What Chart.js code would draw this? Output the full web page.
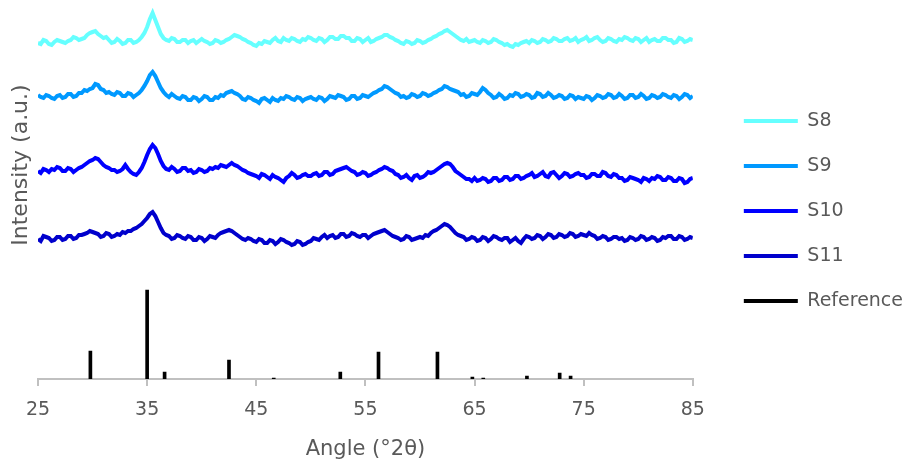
<!DOCTYPE html>
<html>
<head>
<meta charset="utf-8">
<script src="https://cdn.jsdelivr.net/npm/chart.js@4.4.1/dist/chart.umd.min.js"></script>
<style>
  html, body { margin: 0; padding: 0; background: #ffffff; }
  #wrap { width: 904px; height: 462px; }
</style>
</head>
<body>
<div id="wrap"><canvas id="xrdChart"></canvas></div>
<script>
// XRD patterns, stacked (intensity in a.u., every 0.25 deg)
const angleStart = 25;
const angleStep = 0.25;

const s8 = [
  336,335,339,338,335,334,337,339,338,337,336,338,339,342,341,339,340,341,344,346,
  347,348,345,343,341,342,339,336,337,340,338,335,336,339,339,336,337,339,342,346,
  352,360,366,359,352,345,341,339,338,341,340,337,337,339,339,336,338,339,336,338,
  340,338,337,335,336,339,338,336,337,339,340,342,344,343,342,340,339,337,336,334,
  333,336,335,338,337,336,339,341,338,337,341,339,338,341,340,338,337,340,339,342,
  341,339,338,341,340,337,339,342,342,340,340,343,343,341,341,338,338,341,340,337,
  339,341,337,338,340,341,342,344,344,342,341,339,338,336,335,338,337,335,336,339,
  338,336,337,339,340,342,343,345,346,348,349,347,345,343,341,339,338,340,337,338,
  339,337,336,339,338,336,337,340,339,337,336,334,335,333,332,335,334,336,337,338,
  336,339,338,336,337,340,339,337,338,341,340,338,338,340,341,338,339,341,337,339,
  340,342,338,339,341,342,339,337,338,341,340,338,337,340,339,342,341,339,338,341,
  340,337,339,341,337,339,340,338,338,341,341,339,339,336,337,341,340,337,338,340,
  339
];
const s9 = [
  284,282,281,284,283,281,280,283,284,281,282,285,285,282,283,286,286,289,288,290,
  291,295,294,290,289,286,287,285,284,287,286,283,283,286,285,282,284,286,289,293,
  298,304,307,303,297,291,287,284,282,285,283,281,280,283,282,279,279,282,281,278,
  280,283,282,279,279,282,281,284,283,286,287,288,286,285,283,280,279,282,281,279,
  278,276,280,281,279,277,281,279,278,281,280,283,282,280,279,282,281,278,280,281,
  282,280,279,282,281,278,280,283,282,281,284,283,282,279,280,283,283,280,281,284,
  283,282,284,286,287,289,290,293,292,290,288,286,285,282,283,281,282,285,284,282,
  283,286,285,283,284,286,287,289,290,293,292,290,289,288,287,284,285,282,283,286,
  285,284,287,291,289,286,284,281,282,285,283,280,281,284,283,286,285,282,283,285,
  284,281,282,286,285,282,283,286,284,281,282,284,283,280,281,284,283,280,282,281,
  280,283,282,279,281,284,283,281,282,285,284,281,282,285,283,280,281,284,284,281,
  282,285,283,280,281,284,283,281,282,285,284,282,281,284,283,280,282,285,284,281,
  283
];
const s10 = [
  208,206,210,209,207,210,209,212,211,208,208,211,210,207,209,211,212,214,216,218,
  219,221,220,217,214,212,211,209,209,207,208,210,214,210,207,205,204,207,211,217,
  224,230,234,231,225,218,213,210,209,212,210,207,208,211,211,208,209,206,207,210,
  209,207,208,211,210,212,211,214,213,212,214,216,214,213,211,209,208,206,205,204,
  203,201,205,204,202,200,204,202,201,199,197,201,203,206,204,201,202,204,205,203,
  203,205,206,203,204,207,207,204,205,208,209,210,211,212,210,208,207,204,205,207,
  206,203,204,206,207,209,210,212,211,209,208,205,204,201,202,204,201,199,203,204,
  201,202,204,207,206,207,209,211,213,215,216,215,212,208,206,204,202,200,200,198,
  201,198,199,201,200,197,198,201,201,198,199,202,202,199,200,203,203,200,201,203,
  204,206,202,203,205,207,203,202,206,207,204,201,203,206,205,202,203,205,206,204,
  204,201,202,205,205,203,203,207,206,203,202,205,204,201,201,198,199,202,201,200,
  199,197,201,200,198,201,200,203,202,199,199,202,201,198,198,201,200,196,197,200,
  201
];
const s11 = [
  140,138,143,142,141,138,139,142,142,139,140,143,143,140,141,144,144,145,146,148,
  147,146,145,142,143,146,145,142,143,145,144,147,146,148,148,150,151,153,155,158,
  161,165,167,163,157,151,146,144,143,140,141,144,143,141,140,143,142,139,139,142,
  141,138,140,143,142,141,144,146,147,148,149,148,146,144,142,140,139,141,140,138,
  137,140,139,136,136,139,138,135,137,140,139,137,136,134,135,138,137,134,135,137,
  138,141,140,139,142,144,141,143,144,141,142,145,145,142,143,146,145,143,142,144,
  144,141,143,145,146,147,148,149,147,145,143,142,141,139,140,143,142,139,140,141,
  142,141,144,143,146,148,149,151,153,155,154,152,149,146,144,143,142,139,140,142,
  141,138,139,142,141,138,140,143,142,140,139,141,141,137,139,141,138,136,140,143,
  142,140,141,144,143,140,142,145,144,141,142,145,144,142,143,146,145,142,143,145,
  144,143,146,144,143,140,141,143,142,139,140,142,142,140,141,138,139,142,141,139,
  140,143,142,139,140,142,141,138,139,142,141,143,143,140,140,143,142,139,140,142,
  141
];

// reference pattern (stick positions and heights)
const refAngles  = [29.8, 35.0, 36.6, 42.5, 46.6, 52.7, 56.2, 61.6, 64.8, 65.8, 69.8, 72.8, 73.8];
const refHeights = [28,   89,   7,    19,   1,    7,    27,   27,   2,    1,    3,    6,    3];

const seriesNames  = ["S8", "S9", "S10", "S11", "Reference"];
const seriesColors = ["#66ffff", "#0099ff", "#0000ff", "#0000cc", "#000000"];
const xTicks = [25, 35, 45, 55, 65, 75, 85];

const textColor = "#595959";
const axisColor = "#c0c0c0";
Chart.defaults.font.family = "'DejaVu Sans', sans-serif";
Chart.defaults.color = textColor;

function toPoints(values) {
  return values.map((v, i) => ({ x: angleStart + i * angleStep, y: v }));
}

const lineSets = [s8, s9, s10, s11].map((vals, i) => ({
  type: "line",
  label: seriesNames[i],
  data: toPoints(vals),
  borderColor: seriesColors[i],
  borderWidth: 4,
  pointRadius: 0,
  tension: 0,
  fill: false
}));

const refSet = {
  type: "bar",
  label: seriesNames[4],
  data: refAngles.map((a, i) => ({ x: a, y: refHeights[i] })),
  backgroundColor: seriesColors[4],
  barThickness: 3,
  grouped: false
};

new Chart(document.getElementById("xrdChart"), {
  type: "line",
  data: { datasets: [...lineSets, refSet] },
  options: {
    responsive: true,
    maintainAspectRatio: false,
    animation: false,
    layout: { padding: { top: 0, right: -9, bottom: 0, left: 0 } },
    plugins: {
      tooltip: { enabled: false },
      legend: {
        position: "right",
        align: "start",
        title: { display: true, text: "", padding: { top: 71, bottom: 0 } },
        labels: {
          usePointStyle: true,
          pointStyleWidth: 54,
          padding: 26,
          color: textColor,
          font: { size: 19 },
          generateLabels: chart => chart.data.datasets.map((ds, i) => ({
            text: ds.label,
            datasetIndex: i,
            pointStyle: "line",
            strokeStyle: seriesColors[i],
            fillStyle: seriesColors[i],
            lineWidth: 4,
            fontColor: textColor,
            hidden: false
          }))
        }
      }
    },
    scales: {
      x: {
        type: "linear",
        offset: false,
        min: xTicks[0],
        max: xTicks[xTicks.length - 1],
        afterBuildTicks: s => { s.ticks = xTicks.map(v => ({ value: v })); },
        afterFit: s => { s.height = 83; },
        ticks: { color: textColor, font: { size: 19 }, padding: 13, maxRotation: 0 },
        grid: { offset: false, drawOnChartArea: false, drawTicks: true, tickLength: 7, color: axisColor, lineWidth: 2 },
        border: { display: true, color: axisColor, width: 2 },
        title: { display: true, text: "Angle (°2θ)", color: textColor, font: { size: 21 }, padding: { top: 0, bottom: 0 } }
      },
      y: {
        min: 0,
        max: 379,
        afterFit: s => { s.width = 38; },
        ticks: { display: false },
        grid: { display: false },
        border: { display: false },
        title: { display: true, text: "       Intensity (a.u.)", color: textColor, font: { size: 22 }, padding: { top: 8, bottom: 0 } }
      },
      gap: {
        type: "linear",
        position: "right",
        display: false,
        afterFit: s => { s.width = 25; }
      }
    }
  }
});
</script>
</body>
</html>
